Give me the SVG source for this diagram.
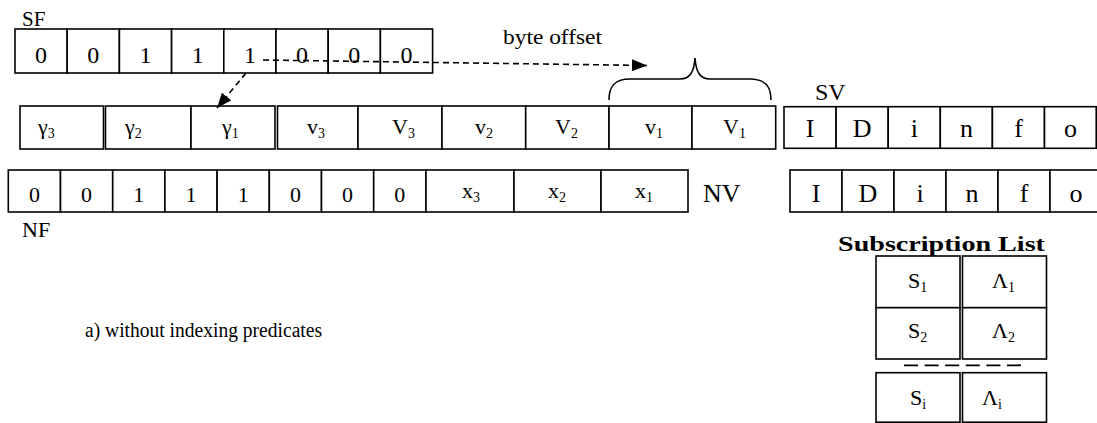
<svg xmlns="http://www.w3.org/2000/svg" width="1097" height="423" viewBox="0 0 1097 423">
<style>
.c{fill:#fff;stroke:#000;stroke-width:1.6}
.t{font-family:"Liberation Serif","Times New Roman",serif;fill:#000}
.m{text-anchor:middle}
.d{fill:none;stroke:#000;stroke-width:1.6;stroke-dasharray:6 4}
.s{font-size:14px}
</style>
<defs>
<marker id="ah" markerUnits="userSpaceOnUse" markerWidth="16" markerHeight="12" refX="15" refY="6" orient="auto">
<path d="M0,0 L15,6 L0,12 z" fill="#000"/>
</marker>
</defs>
<rect width="1097" height="423" fill="#fff"/>

<g id="SF">
<text class="t" x="22" y="26" font-size="21">SF</text>
<rect class="c" x="15" y="29" width="52.2" height="44"/>
<rect class="c" x="67.2" y="29" width="52.2" height="44"/>
<rect class="c" x="119.4" y="29" width="52.2" height="44"/>
<rect class="c" x="171.6" y="29" width="52.2" height="44"/>
<rect class="c" x="223.8" y="29" width="52.2" height="44"/>
<rect class="c" x="276" y="29" width="52.2" height="44"/>
<rect class="c" x="328.2" y="29" width="52.2" height="44"/>
<rect class="c" x="380.4" y="29" width="52.2" height="44"/>
<g class="t m" font-size="24">
<text x="41.1" y="63">0</text><text x="93.3" y="63">0</text><text x="145.5" y="63">1</text><text x="197.7" y="63">1</text>
<text x="249.9" y="63">1</text><text x="302.1" y="63">0</text><text x="354.3" y="63">0</text><text x="406.5" y="63">0</text>
</g>
</g>

<g id="values">
<rect class="c" x="20" y="106" width="83.5" height="43"/>
<rect class="c" x="105.5" y="106" width="85.5" height="43"/>
<rect class="c" x="191" y="106" width="84" height="43"/>
<rect class="c" x="277.5" y="106" width="80.5" height="43"/>
<rect class="c" x="358" y="106" width="84" height="43"/>
<rect class="c" x="442" y="106" width="83.7" height="43"/>
<rect class="c" x="525.7" y="106" width="83.3" height="43"/>
<rect class="c" x="609" y="106" width="83" height="43"/>
<rect class="c" x="692" y="106" width="83.7" height="43"/>
<g class="t" font-size="22">
<text x="38" y="134">γ<tspan class="s" dy="4">3</tspan></text>
<text x="125" y="134">γ<tspan class="s" dy="4">2</tspan></text>
<text x="222" y="134">γ<tspan class="s" dy="4">1</tspan></text>
<text x="307" y="134">v<tspan class="s" dy="4">3</tspan></text>
<text x="392" y="134">V<tspan class="s" dy="4">3</tspan></text>
<text x="475" y="134">v<tspan class="s" dy="4">2</tspan></text>
<text x="555" y="134">V<tspan class="s" dy="4">2</tspan></text>
<text x="645" y="134">v<tspan class="s" dy="4">1</tspan></text>
<text x="723" y="134">V<tspan class="s" dy="4">1</tspan></text>
</g>
</g>

<g id="SV">
<text class="t" x="815" y="100" font-size="24">SV</text>
<rect class="c" x="784" y="106.7" width="52.1" height="41.6"/>
<rect class="c" x="836.1" y="106.7" width="52.1" height="41.6"/>
<rect class="c" x="888.2" y="106.7" width="52.1" height="41.6"/>
<rect class="c" x="940.3" y="106.7" width="52.1" height="41.6"/>
<rect class="c" x="992.4" y="106.7" width="52.1" height="41.6"/>
<rect class="c" x="1044.5" y="106.7" width="51.7" height="41.6"/>
<g class="t m" font-size="26">
<text x="810" y="137">I</text><text x="862.2" y="137">D</text><text x="914.3" y="137">i</text>
<text x="966.4" y="137">n</text><text x="1018.5" y="137">f</text><text x="1070.6" y="137">o</text>
</g>
</g>

<g id="NF">
<rect class="c" x="8.3" y="170" width="52.2" height="42"/>
<rect class="c" x="60.5" y="170" width="52.2" height="42"/>
<rect class="c" x="112.7" y="170" width="52.2" height="42"/>
<rect class="c" x="164.9" y="170" width="52.2" height="42"/>
<rect class="c" x="217.1" y="170" width="52.2" height="42"/>
<rect class="c" x="269.3" y="170" width="52.2" height="42"/>
<rect class="c" x="321.5" y="170" width="52.2" height="42"/>
<rect class="c" x="373.7" y="170" width="52.3" height="42"/>
<rect class="c" x="426" y="170" width="88" height="42"/>
<rect class="c" x="514" y="170" width="87" height="42"/>
<rect class="c" x="601" y="170" width="87" height="42"/>
<g class="t m" font-size="22">
<text x="34.4" y="202">0</text><text x="86.6" y="202">0</text><text x="138.8" y="202">1</text><text x="191" y="202">1</text>
<text x="243.2" y="202">1</text><text x="295.4" y="202">0</text><text x="347.6" y="202">0</text><text x="399.8" y="202">0</text>
</g>
<g class="t" font-size="22">
<text x="462" y="198">x<tspan class="s" dy="4">3</tspan></text>
<text x="548" y="198">x<tspan class="s" dy="4">2</tspan></text>
<text x="635" y="198">x<tspan class="s" dy="4">1</tspan></text>
</g>
<text class="t" x="703" y="202" font-size="26">NV</text>
<text class="t" x="22" y="237" font-size="22">NF</text>
</g>

<g id="NVinfo">
<rect class="c" x="790" y="170" width="52" height="42"/>
<rect class="c" x="842" y="170" width="52" height="42"/>
<rect class="c" x="894" y="170" width="52" height="42"/>
<rect class="c" x="946" y="170" width="52" height="42"/>
<rect class="c" x="998" y="170" width="52" height="42"/>
<rect class="c" x="1050" y="170" width="52" height="42"/>
<g class="t m" font-size="26">
<text x="816" y="202">I</text><text x="868" y="202">D</text><text x="920" y="202">i</text>
<text x="972" y="202">n</text><text x="1024" y="202">f</text><text x="1076" y="202">o</text>
</g>
</g>

<g id="subscription">
<text class="t" x="838" y="251" font-size="21" font-weight="bold" textLength="207" lengthAdjust="spacingAndGlyphs">Subscription List</text>
<rect class="c" x="876" y="256" width="84" height="51.7"/>
<rect class="c" x="962.5" y="256" width="84" height="51.7"/>
<rect class="c" x="876" y="307.7" width="84" height="51.3"/>
<rect class="c" x="962.5" y="307.7" width="84" height="51.3"/>
<rect class="c" x="876" y="372.7" width="84" height="49.5"/>
<rect class="c" x="962.5" y="372.7" width="84" height="49.5"/>
<line x1="904" y1="365.3" x2="1021" y2="365.3" stroke="#000" stroke-width="1.8" stroke-dasharray="14 6.6"/>
<g class="t" font-size="22">
<text x="908" y="288">S<tspan class="s" dy="4">1</tspan></text>
<text x="992" y="288">Λ<tspan class="s" dy="4">1</tspan></text>
<text x="908" y="338">S<tspan class="s" dy="4">2</tspan></text>
<text x="992" y="338">Λ<tspan class="s" dy="4">2</tspan></text>
<text x="910" y="405">S<tspan class="s" dy="4">i</tspan></text>
<text x="982" y="405">Λ<tspan class="s" dy="4">i</tspan></text>
</g>
</g>

<g id="connectors">
<line class="d" x1="246" y1="73" x2="217" y2="108" marker-end="url(#ah)"/>
<line class="d" x1="263" y1="60" x2="647" y2="65.5" marker-end="url(#ah)"/>
<path d="M609,100 C609,86 615,79 630,79 L680,79 C690,79 694,72 695,58 C696,72 700,79 710,79 L750,79 C765,79 771,86 771,100" fill="none" stroke="#000" stroke-width="1.6"/>
</g>

<text class="t" x="503" y="44" font-size="20" textLength="99" lengthAdjust="spacingAndGlyphs">byte offset</text>
<text class="t" x="85" y="337" font-size="20" textLength="237" lengthAdjust="spacingAndGlyphs">a) without indexing predicates</text>
</svg>
